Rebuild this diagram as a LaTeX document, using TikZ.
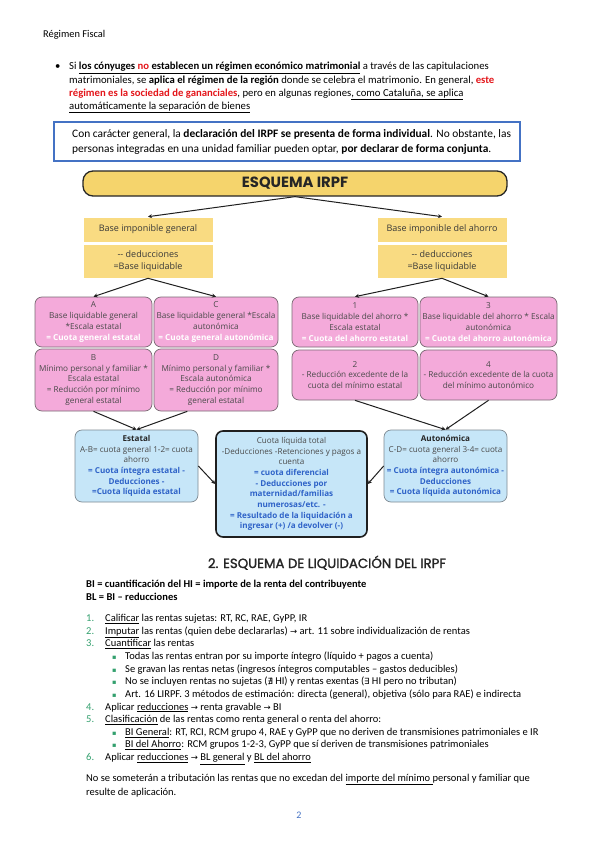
\documentclass[tikz,border=0pt]{standalone}
\usepackage{fontspec}
\setmainfont{Carlito}
\newfontfamily\osans{Open Sans}
\newfontfamily\pop{Poppins}
\newfontfamily\popm{Poppins}[FakeBold=1.6]
\newfontfamily\dvs{DejaVu Sans}
\newcommand\uline[1]{\underline{#1}}
\usetikzlibrary{arrows.meta,calc}
\definecolor{wordred}{HTML}{E4161B}
\definecolor{wordblue}{HTML}{4472C4}
\definecolor{bannerY}{HTML}{F5D46C}
\definecolor{boxY}{HTML}{F9DB82}
\definecolor{pinkF}{HTML}{F4AADA}
\definecolor{pinkB}{HTML}{7A6A74}
\definecolor{blueF}{HTML}{C6E6F8}
\definecolor{blueB}{HTML}{7F8A92}
\definecolor{blueT}{HTML}{2F63C8}
\definecolor{txtG}{HTML}{4A4A4A}
\definecolor{greenN}{HTML}{33A06E}
\newcommand\arr{{\dvs\fontsize{8.5}{10}\selectfont →}}
\begin{document}
\begin{tikzpicture}[x=1pt,y=-1pt,
  txt/.style={anchor=base west,inner sep=0pt,font=\fontsize{10.5}{12}\selectfont},
  ttxt/.style={anchor=base west,inner sep=0pt,font=\fontsize{10.7}{12}\selectfont},
  ftxt/.style={anchor=base west,inner sep=0pt,font=\fontsize{11.4}{13}\selectfont},
  ybox/.style={fill=boxY,draw=white,line width=0.6pt,inner sep=0pt,align=center,text=black!78,font=\osans\fontsize{9}{12}\selectfont},
  pbox/.style={fill=pinkF,draw=pinkB,line width=0.7pt,rounded corners=7pt,inner sep=0pt,align=center,text=txtG,font=\osans\fontsize{8.2}{10.8}\selectfont},
  bbox/.style={fill=blueF,draw=blueB,line width=0.7pt,rounded corners=7pt,inner sep=0pt,align=center,text=txtG,font=\osans\fontsize{8.1}{10.7}\selectfont},
  conn/.style={draw=black!88,line width=1pt,-{Stealth[length=4pt,width=4pt]}},
  gb/.style={anchor=base west,inner sep=0pt,text=greenN,font=\dvs\fontsize{6.5}{7}\selectfont}
]
\useasboundingbox (0,0) rectangle (599,848);
\fill[white] (0,0) rectangle (599,848);

% header
\node[txt,font=\fontsize{10.4}{12}\selectfont] (hdr) at (43,37.5) {Régimen Fiscal};

% bullet paragraph
\node[ttxt] (bul) at (55,70) {•};
\node[ttxt] (p1) at (69,70) {Si \uline{\textbf{los cónyuges \textcolor{wordred}{no} establecen un régimen económico matrimonial}} a través de las capitulaciones};
\node[ttxt] (p2) at (69,83.3) {matrimoniales, se \textbf{aplica el régimen de la región} donde se celebra el matrimonio. En general, \textcolor{wordred}{\textbf{este}}};
\node[ttxt] (p3) at (69,96.3) {\textcolor{wordred}{\textbf{régimen es la sociedad de gananciales}}, pero en algunas regiones\uline{, como Cataluña, se aplica}};
\node[ttxt] (p4) at (69,109.3) {\uline{automáticamente la separación de bienes}};

% framed box
\node[draw=wordblue,line width=1.4pt,minimum width=466pt,minimum height=39pt,inner sep=0pt] (frame) at (287,141.5) {};
\node[ftxt] (f1) at (72,137) {Con carácter general, la \textbf{declaración del IRPF se presenta de forma individual}. No obstante, las};
\node[ftxt] (f2) at (72,153) {personas integradas en una unidad familiar pueden optar, \textbf{por declarar de forma conjunta}.};

% banner
\node[fill=bannerY,draw=black!85,line width=1.3pt,rounded corners=10pt,minimum width=424pt,minimum height=25pt,inner sep=0pt,font=\pop\bfseries\fontsize{14.8}{16}\selectfont,text=black!85] (banner) at (295,183.5) {ESQUEMA IRPF};

% yellow boxes
\node[ybox,minimum width=130pt,minimum height=25pt] (yl1) at (148,229.5) {Base imponible general};
\node[ybox,minimum width=130pt,minimum height=34pt] (yl2) at (148,261) {-- deducciones\\=Base liquidable};
\node[ybox,minimum width=130pt,minimum height=25pt] (yr1) at (442,229.5) {Base imponible del ahorro};
\node[ybox,minimum width=130pt,minimum height=34pt] (yr2) at (442,261) {-- deducciones\\=Base liquidable};

% pink boxes
\node[pbox,minimum width=117pt,minimum height=50pt] (pA) at (93.5,322) {A\\Base liquidable general\\*Escala estatal\\\textcolor{white}{\bfseries = Cuota general estatal}};
\node[pbox,minimum width=124pt,minimum height=50pt] (pC) at (216,322) {C\\Base liquidable general *Escala\\autonómica\\\textcolor{white}{\bfseries = Cuota general autonómica}};
\node[pbox,minimum width=117pt,minimum height=62pt] (pB) at (93.5,380) {B\\Mínimo personal y familiar *\\Escala estatal\\= Reducción por mínimo\\general estatal};
\node[pbox,minimum width=124pt,minimum height=62pt] (pD) at (216,380) {D\\Mínimo personal y familiar *\\Escala autonómica\\= Reducción por mínimo\\general estatal};
\node[pbox,minimum width=126pt,minimum height=50pt] (p1b) at (355,322) {1\\Base liquidable del ahorro *\\Escala estatal\\\textcolor{white}{\bfseries = Cuota del ahorro estatal}};
\node[pbox,minimum width=137pt,minimum height=50pt] (p3b) at (488.5,322) {3\\Base liquidable del ahorro * Escala\\autonómica\\\textcolor{white}{\bfseries = Cuota del ahorro autonómica}};
\node[pbox,minimum width=126pt,minimum height=50pt] (p2b) at (355,375) {2\\- Reducción excedente de la\\cuota del mínimo estatal};
\node[pbox,minimum width=137pt,minimum height=50pt] (p4b) at (488.5,375) {4\\- Reducción excedente de la cuota\\del mínimo autonómico};

% blue boxes
\node[bbox,minimum width=123pt,minimum height=72pt] (est) at (136.5,466) {\textcolor{black!85}{\bfseries Estatal}\\A-B= cuota general 1-2= cuota\\ahorro\\\textcolor{blueT}{\bfseries = Cuota íntegra estatal -}\\\textcolor{blueT}{\bfseries Deducciones -}\\\textcolor{blueT}{\bfseries =Cuota líquida estatal}};
\node[bbox,minimum width=123pt,minimum height=72pt] (aut) at (445.5,466) {\textcolor{black!85}{\bfseries Autonómica}\\C-D= cuota general 3-4= cuota\\ahorro\\\textcolor{blueT}{\bfseries = Cuota íntegra autonómica -}\\\textcolor{blueT}{\bfseries Deducciones}\\\textcolor{blueT}{\bfseries = Cuota líquida autonómica}};
\node[bbox,draw=black!88,line width=1.6pt,minimum width=151pt,minimum height=106pt] (ctr) at (291.5,484) {Cuota líquida total\\-Deducciones -Retenciones y pagos a\\cuenta\\\textcolor{blueT}{\bfseries = cuota diferencial}\\\textcolor{blueT}{\bfseries - Deducciones por}\\\textcolor{blueT}{\bfseries maternidad/familias}\\\textcolor{blueT}{\bfseries numerosas/etc. -}\\\textcolor{blueT}{\bfseries = Resultado de la liquidación a}\\\textcolor{blueT}{\bfseries ingresar (+) /a devolver (-)}};

% connectors
\draw[conn] (banner.south) -- (yl1.north);
\draw[conn] (banner.south) -- (yr1.north);
\draw[conn] (yl2.south) -- (pA.north);
\draw[conn] (yl2.south) -- (pC.north);
\draw[conn] (yr2.south) -- (p1b.north);
\draw[conn] (yr2.south) -- (p3b.north);
\coordinate (dstart) at ($(pD.south west)!0.27!(pD.south east)$);
\draw[conn] (pB.south) -- (est.north);
\draw[conn] (dstart) -- (est.north);
\draw[conn] (p2b.south) -- (aut.north);
\draw[conn] (p4b.south) -- (aut.north);
\draw[conn] (est.east) -- (ctr.west);
\draw[conn] (aut.west) -- (ctr.east);

% section 2
\node[anchor=base,inner sep=0pt,font=\popm\fontsize{13.3}{15}\selectfont,text=black!85] (s2) at (327,568) {2. ESQUEMA DE LIQUIDACIÓN DEL IRPF};
\node[txt] (bi) at (86,587.5) {\textbf{BI = cuantificación del HI = importe de la renta del contribuyente}};
\node[txt] (bl) at (86,600.5) {\textbf{BL = BI – reducciones}};

\node[txt,text=greenN] (n1) at (86,621.5) {1.};
\node[txt] (l1) at (105,621.5) {\uline{Calificar} las rentas sujetas: RT, RC, RAE, GyPP, IR};
\node[txt,text=greenN] (n2) at (86,634.1) {2.};
\node[txt] (l2) at (105,634.1) {\uline{Imputar} las rentas (quien debe declararlas) \arr{} art. 11 sobre individualización de rentas};
\node[txt,text=greenN] (n3) at (86,646.8) {3.};
\node[txt] (l3) at (105,646.8) {\uline{Cuantificar} las rentas};
\node[gb] (b1) at (112,659.4) {▪};
\node[txt] (l4) at (125,659.4) {Todas las rentas entran por su importe íntegro (líquido + pagos a cuenta)};
\node[gb] (b2) at (112,672.1) {▪};
\node[txt] (l5) at (125,672.1) {Se gravan las rentas netas (ingresos íntegros computables – gastos deducibles)};
\node[gb] (b3) at (112,684.7) {▪};
\node[txt] (l6) at (125,684.7) {No se incluyen rentas no sujetas ({\dvs\fontsize{8.5}{10}\selectfont ∄} HI) y rentas exentas ({\dvs\fontsize{8.5}{10}\selectfont ∃} HI pero no tributan)};
\node[gb] (b4) at (112,697.3) {▪};
\node[txt] (l7) at (125,697.3) {Art. 16 LIRPF. 3 métodos de estimación: directa (general), objetiva (sólo para RAE) e indirecta};
\node[txt,text=greenN] (n4) at (86,710) {4.};
\node[txt] (l8) at (105,710) {Aplicar \uline{reducciones} \arr{} renta gravable \arr{} BI};
\node[txt,text=greenN] (n5) at (86,722.6) {5.};
\node[txt] (l9) at (105,722.6) {\uline{Clasificación} de las rentas como renta general o renta del ahorro:};
\node[gb] (b5) at (112,735.3) {▪};
\node[txt] (l10) at (125,735.3) {\uline{BI General}: RT, RCI, RCM grupo 4, RAE y GyPP que no deriven de transmisiones patrimoniales e IR};
\node[gb] (b6) at (112,747.9) {▪};
\node[txt] (l11) at (125,747.9) {\uline{BI del Ahorro}: RCM grupos 1-2-3, GyPP que sí deriven de transmisiones patrimoniales};
\node[txt,text=greenN] (n6) at (86,760.5) {6.};
\node[txt] (l12) at (105,760.5) {Aplicar \uline{reducciones} \arr{} \uline{BL general} y \uline{BL del ahorro}};

\node[txt] (c1) at (86,781.5) {No se someterán a tributación las rentas que no excedan del \uline{importe del mínimo }personal y familiar que};
\node[txt] (c2) at (86,795) {resulte de aplicación.};

\node[anchor=base,inner sep=0pt,font=\fontsize{10}{11}\selectfont,text=wordblue] (pg) at (299,818.5) {2};
\end{tikzpicture}
\end{document}
